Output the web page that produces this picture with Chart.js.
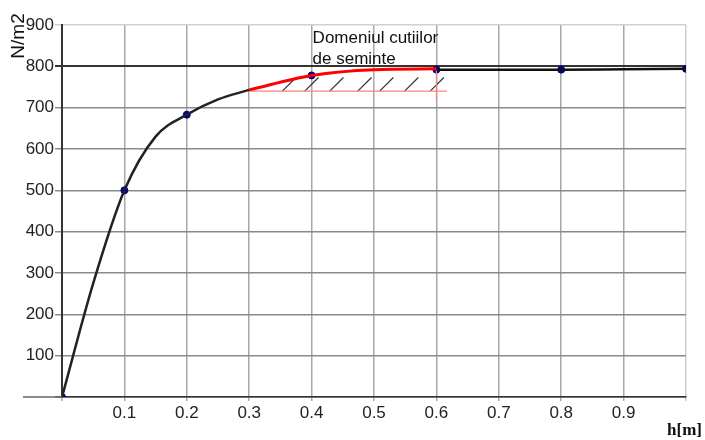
<!DOCTYPE html>
<html>
<head>
<meta charset="utf-8">
<script src="https://cdn.jsdelivr.net/npm/chart.js@4.4.1/dist/chart.umd.min.js"></script>
<style>
    html, body { margin: 0; padding: 0; background: #fff; }
    #wrap { width: 705px; height: 440px; }
</style>
</head>
<body>
<div id="wrap"><canvas id="chart"></canvas></div>
<script>
// curve, split where the colour changes
const curveStartX = [0, 0.05, 0.1, 0.15, 0.2, 0.25, 0.3]
const curveStartY = [0, 275, 500, 630, 683, 720, 743]
const curveRedX = [0.3, 0.4, 0.5, 0.6]
const curveRedY = [743, 778, 792, 794]
const curveEndX = [0.6, 0.7, 0.8, 0.9, 1.0]
const curveEndY = [792, 792, 792, 793, 794]

// measured points (markers)
const pointX = [0, 0.1, 0.2, 0.4, 0.6, 0.8, 1.0]
const pointY = [0, 500, 683, 778, 792, 792, 794]

// hatched zone
const zoneX = [0.3, 0.617]
const zoneY = [740, 740]
const zoneEdgeX = [0.6, 0.6]
const zoneEdgeY = [720, 792]
const hatchX = [0.353, 0.389, 0.429, 0.474, 0.509, 0.549, 0.59]
const hatchY = [740, 773]
const hatchDx = 0.022

const xTickLabels = ["0.1", "0.2", "0.3", "0.4", "0.5", "0.6", "0.7", "0.8", "0.9"]
const yTickLabels = ["100", "200", "300", "400", "500", "600", "700", "800", "900"]
const noteLines = ["Domeniul cutiilor", "de seminte"]

const toXY = (xs, ys) => xs.map((x, i) => ({ x : x, y : ys[i] }))

const datasets = [{
    data : toXY(curveStartX, curveStartY),
    borderColor : "#222",
    borderWidth : 2.5,
    cubicInterpolationMode : "monotone",
    pointRadius : 0,
}, {
    data : toXY(curveRedX, curveRedY),
    borderColor : "#ff0000",
    borderWidth : 3,
    cubicInterpolationMode : "monotone",
    pointRadius : 0,
}, {
    data : toXY(curveEndX, curveEndY),
    borderColor : "#111",
    borderWidth : 2.5,
    cubicInterpolationMode : "monotone",
    pointRadius : 0,
}, {
    data : toXY(zoneX, zoneY),
    borderColor : "#ff8080",
    borderWidth : 1.2,
    pointRadius : 0,
}, {
    data : toXY(zoneEdgeX, zoneEdgeY),
    borderColor : "#ff8080",
    borderWidth : 1.2,
    pointRadius : 0,
}]

hatchX.forEach(x => {
    datasets.push({
        data : [{ x : x, y : hatchY[0] }, { x : x + hatchDx, y : hatchY[1] }],
        borderColor : "#333",
        borderWidth : 1.2,
        pointRadius : 0,
    })
})

datasets.push({
    data : toXY(pointX, pointY),
    showLine : false,
    pointRadius : 3.5,
    pointStyle : "circle",
    pointBackgroundColor : "#00008b",
    pointBorderColor : "#00008b",
})

const textPlugin = {
    id : "texts",
    afterDraw(chart) {
        const ctx = chart.ctx
        const xs = chart.scales.x
        const ys = chart.scales.y
        ctx.save()
        // x axis line runs past the y axis on the left
        ctx.strokeStyle = "#666"
        ctx.lineWidth = 1.5
        ctx.beginPath()
        ctx.moveTo(23, ys.getPixelForValue(0))
        ctx.lineTo(xs.left, ys.getPixelForValue(0))
        ctx.stroke()

        ctx.fillStyle = "#111"
        ctx.font = "17px 'Liberation Sans', Arial, sans-serif"
        ctx.textAlign = "left"
        ctx.textBaseline = "alphabetic"
        const nx = xs.getPixelForValue(0.4) + 1
        ctx.fillText(noteLines[0], nx, 43)
        ctx.fillText(noteLines[1], nx, 64)

        ctx.font = "bold 17px 'Liberation Serif', 'Times New Roman', serif"
        ctx.textAlign = "right"
        ctx.fillText("h[m]", 702, 435)

        ctx.translate(24, 36)
        ctx.rotate(-Math.PI / 2)
        ctx.textAlign = "center"
        ctx.font = "19px 'Liberation Sans', Arial, sans-serif"
        ctx.fillText("N/m2", 0, 0)
        ctx.restore()
    },
}

new Chart(document.getElementById("chart").getContext("2d"), {
    type : "line",
    data : { datasets : datasets },
    options : {
        responsive : true,
        maintainAspectRatio : false,
        animation : false,
        layout : { padding : { top : 25, right : 19, left : 0, bottom : 0 } },
        scales : {
            x : {
                type : "linear",
                min : 0,
                max : 1,
                afterFit : scale => { scale.height = 43 },
                afterBuildTicks : scale => {
                    scale.ticks = [0, 1, 2, 3, 4, 5, 6, 7, 8, 9, 10].map(i => ({ value : i / 10 }))
                },
                ticks : {
                    padding : 2,
                    color : "#222",
                    font : { family : "'Liberation Sans', Arial, sans-serif", size : 17 },
                    maxRotation : 0,
                    autoSkip : false,
                    callback : (v, i) => (i >= 1 && i <= 9 ? xTickLabels[i - 1] : ""),
                },
                grid : {
                    color : ctx => (ctx.index === 10 ? "#cfcfcf" : "#a8a8a8"),
                    lineWidth : 1.5,
                    tickLength : 4,
                },
                border : { color : "#333", width : 1.5 },
            },
            y : {
                min : 0,
                max : 900,
                afterFit : scale => { scale.width = 62 },
                afterBuildTicks : scale => {
                    scale.ticks = [0, 1, 2, 3, 4, 5, 6, 7, 8, 9].map(i => ({ value : i * 100 }))
                },
                ticks : {
                    padding : 1,
                    color : "#222",
                    font : { family : "'Liberation Sans', Arial, sans-serif", size : 17 },
                    autoSkip : false,
                    callback : (v, i) => (i >= 1 ? yTickLabels[i - 1] : ""),
                },
                grid : {
                    color : ctx => {
                        const v = ctx.tick ? ctx.tick.value : 0
                        if (v === 800) return "#333"
                        if (v === 900) return "#d0d0d0"
                        if (v === 0) return "#666"
                        return "#8a8a8a"
                    },
                    lineWidth : ctx => (ctx.tick && ctx.tick.value === 800 ? 2 : 1.5),
                    tickLength : 7,
                },
                border : { color : "#333", width : 2 },
            },
        },
        plugins : {
            legend : { display : false },
            tooltip : { enabled : false },
        },
    },
    plugins : [textPlugin],
})
</script>
</body>
</html>
